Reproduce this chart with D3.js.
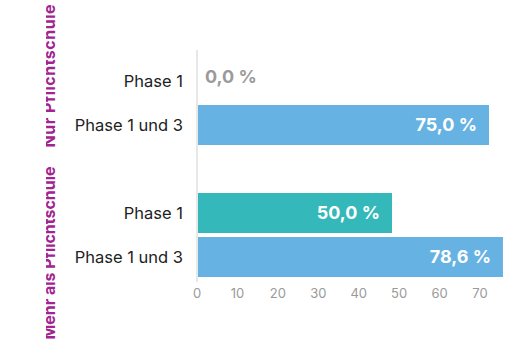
<!DOCTYPE html>
<html>
<head>
<meta charset="utf-8">
<script src="https://cdn.jsdelivr.net/npm/d3@7"></script>
<style>
  body { margin: 0; background: #fff; }
</style>
</head>
<body>
<div id="chart"></div>
<script>
var groups = ["Nur Pflichtschule", "Mehr als Pflichtschule"];
var phases = ["Phase 1", "Phase 1 und 3"];
var values = [
  [0.0, 75.0],
  [50.0, 78.6]
];
var ticks = [0, 10, 20, 30, 40, 50, 60, 70];
var phaseColors = ["#34b8b9", "#66b3e3"];

var width = 513, height = 347;
var fontFamily = "Inter, Roboto, sans-serif";

var svg = d3.select("#chart").append("svg")
  .attr("width", width)
  .attr("height", height);

// bars and axis labels don't share spacing in the original, so two scales
var x = d3.scaleLinear().domain([0, 100]).range([198, 586]);
var xAxis = d3.scaleLinear().domain([0, 70]).range([197, 480]);

var y0 = d3.scaleBand().domain(groups).range([61, 277]).paddingInner(48 / 132);
var y1 = d3.scaleBand().domain(phases).range([0, y0.bandwidth()]).paddingInner(4 / 44);

// baseline
svg.append("line")
  .attr("x1", 197).attr("x2", 197)
  .attr("y1", 50).attr("y2", 282)
  .attr("stroke", "#e0e0e0")
  .attr("stroke-width", 1.5);

var rows = [];
groups.forEach(function (g, gi) {
  phases.forEach(function (p, pi) {
    rows.push({ group: g, phase: p, pi: pi, value: values[gi][pi] });
  });
});

var row = svg.append("g").selectAll("g")
  .data(rows)
  .enter().append("g")
  .attr("transform", function (d) { return "translate(0," + (y0(d.group) + y1(d.phase)) + ")"; });

row.append("rect")
  .attr("x", x(0))
  .attr("width", function (d) { return x(d.value) - x(0); })
  .attr("height", y1.bandwidth())
  .attr("fill", function (d) { return phaseColors[d.pi]; });

row.append("text")
  .attr("x", 183)
  .attr("y", y1.bandwidth() / 2)
  .attr("dy", "0.35em")
  .attr("text-anchor", "end")
  .attr("font-family", fontFamily)
  .attr("font-size", "16.5px")
  .attr("fill", "#222")
  .text(function (d) { return d.phase; });

row.append("text")
  .attr("x", function (d) { return d.value > 10 ? x(d.value) - 12 : x(d.value) + 7; })
  .attr("y", function (d) { return y1.bandwidth() / 2 - (d.value > 10 ? 0 : 4); })
  .attr("dy", "0.35em")
  .attr("text-anchor", function (d) { return d.value > 10 ? "end" : "start"; })
  .attr("font-family", fontFamily)
  .attr("font-weight", "bold")
  .attr("font-size", "18px")
  .attr("fill", function (d) { return d.value > 10 ? "#fff" : "#9a9a9a"; })
  .text(function (d) { return d3.format(".1f")(d.value).replace(".", ",") + " %"; });

// tick labels
svg.append("g").selectAll("text")
  .data(ticks)
  .enter().append("text")
  .attr("x", function (d) { return xAxis(d); })
  .attr("y", 293)
  .attr("dy", "0.35em")
  .attr("text-anchor", "middle")
  .attr("font-family", fontFamily)
  .attr("font-size", "13px")
  .attr("fill", "#9a9a9a")
  .text(function (d) { return d; });

// group labels, cut off at the left like in the original
svg.append("clipPath").attr("id", "cut")
  .append("rect").attr("x", 46).attr("y", 0).attr("width", width).attr("height", height);

var labelCenters = [76, 253];
var labelLengths = [143, 173];
svg.append("g").attr("clip-path", "url(#cut)").selectAll("text")
  .data(groups)
  .enter().append("text")
  .attr("transform", function (d, i) { return "translate(55," + labelCenters[i] + ") rotate(-90)"; })
  .attr("text-anchor", "middle")
  .attr("font-family", fontFamily)
  .attr("font-weight", "bold")
  .attr("font-size", "16px")
  .attr("textLength", function (d, i) { return labelLengths[i]; })
  .attr("lengthAdjust", "spacing")
  .attr("fill", "#a3238f")
  .text(function (d) { return d; });
</script>
</body>
</html>
